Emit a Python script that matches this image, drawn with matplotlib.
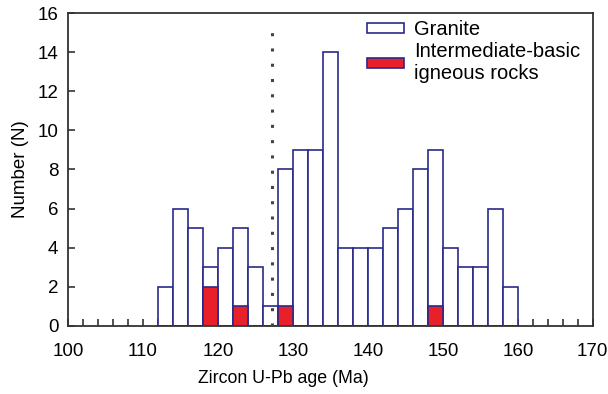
import numpy as np
import matplotlib
matplotlib.use("Agg")
import matplotlib.pyplot as plt
from matplotlib.patches import Patch

plt.rcParams['font.family'] = ['Liberation Sans', 'DejaVu Sans']

# 2 Ma bins, left edges
bin_left = [112, 114, 116, 118, 120, 122, 124, 126, 128, 130, 132, 134, 136,
            138, 140, 142, 144, 146, 148, 150, 152, 154, 156, 158]
granite = [2, 6, 5, 3, 4, 5, 3, 1, 8, 9, 9, 14, 4,
           4, 4, 5, 6, 8, 9, 4, 3, 3, 6, 2]
basic = [0, 0, 0, 2, 0, 1, 0, 0, 1, 0, 0, 0, 0,
         0, 0, 0, 0, 0, 1, 0, 0, 0, 0, 0]
divide_age = 127.2

navy = '#2a2a8c'
red = '#e8202a'

fig = plt.figure(figsize=(6.08, 3.94), dpi=100)
ax = fig.add_axes([0.112, 0.173, 0.863, 0.794])

ax.bar(bin_left, granite, width=2, align='edge', facecolor='white',
       edgecolor=navy, linewidth=1.2, zorder=2)
ax.bar(bin_left, basic, width=2, align='edge', facecolor=red,
       edgecolor=navy, linewidth=1.2, zorder=3)

ax.axvline(divide_age, ymax=0.97, color='#444444', linestyle=(0, (1, 4)),
           linewidth=2.2, zorder=4)

ax.set_xlim(100, 170)
ax.set_ylim(0, 16)
ax.set_xticks(np.arange(100, 171, 10))
ax.set_xticks(np.arange(100, 171, 2), minor=True)
ax.set_yticks(np.arange(0, 17, 2))
ax.tick_params(axis='both', direction='in', labelsize=13.5, width=1.2,
               color='#333333')
ax.tick_params(axis='x', which='major', length=5, pad=12)
ax.tick_params(axis='x', which='minor', direction='in', length=5, width=1.2,
               color='#333333')
ax.tick_params(axis='y', length=5, pad=7)
for s in ax.spines.values():
    s.set_linewidth(1.3)
    s.set_color('#333333')

ax.set_xlabel('Zircon U-Pb age (Ma)', fontsize=12.8)
ax.xaxis.set_label_coords(0.41, -0.142)
ax.set_ylabel('Number (N)', fontsize=13.5, labelpad=6)

handles = [Patch(facecolor='white', edgecolor=navy, linewidth=1.2),
           Patch(facecolor=red, edgecolor=navy, linewidth=1.2)]
ax.legend(handles, ['Granite', 'Intermediate-basic\nigneous rocks'],
          loc='upper right', bbox_to_anchor=(1.01, 1.035), frameon=False,
          fontsize=14.5, handlelength=1.8, handleheight=0.45,
          handletextpad=0.5, labelspacing=0.15)

fig.savefig('out.png', dpi=100)
